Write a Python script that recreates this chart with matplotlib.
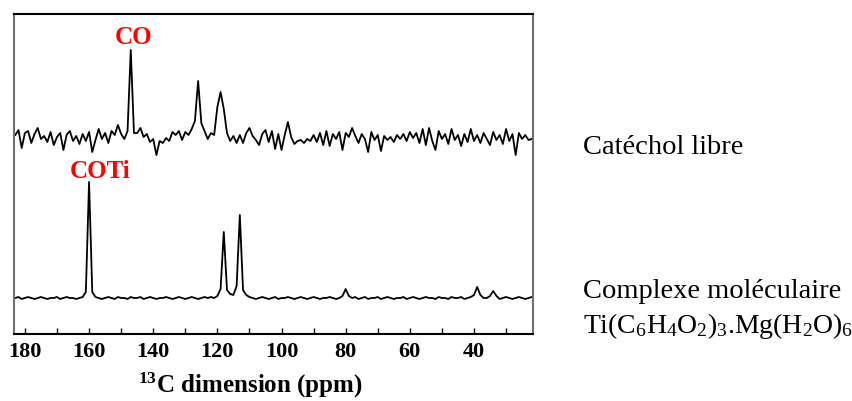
import numpy as np
import matplotlib
matplotlib.use('Agg')
import matplotlib.pyplot as plt
from matplotlib.ticker import MultipleLocator

plt.rcParams['font.family'] = ['Liberation Serif', 'DejaVu Serif']
plt.rcParams['mathtext.fontset'] = 'custom'
plt.rcParams['mathtext.rm'] = 'Liberation Serif'
plt.rcParams['mathtext.it'] = 'Liberation Serif:italic'
plt.rcParams['mathtext.bf'] = 'Liberation Serif:bold'

# chemical shift grid, 1 ppm step, 183 -> 22 ppm
ppm = np.arange(183, 21, -1)

# catechol libre (relative intensity)
catechol = [2, 7, -11, 4, 6, -6, 3, 9, -2, 1,
            -5, 5, -8, 0, 4, -13, 2, 6, -4, 1,
            -7, 3, -4, 5, -15, -3, 8, -2, 4, -6,
            6, 2, 12, 3, -2, 6, 87, 4, 4, 9,
            0, 3, -5, -2, -18, -4, -6, -1, -4, 5,
            2, 6, -3, 5, 2, 8, 16, 56, 14, 6,
            -2, 4, 2, 30, 45, 28, 4, -4, 1, -6,
            2, -6, 4, 9, 1, -3, -8, 3, 7, -5,
            6, -12, 3, -13, 2, 15, 0, -7, -4, -3,
            -6, -2, -4, 2, -5, 4, -8, 6, -9, 3,
            -2, 5, -13, 4, 0, 9, 1, -6, 3, -2,
            -15, 5, -3, 2, -14, 1, -3, 0, -5, 2,
            -2, 3, -4, 5, -1, 4, -6, 8, -8, 9,
            -4, -13, 6, -2, 3, -7, 8, -3, 2, -9,
            3, -5, 8, -4, 2, -6, 4, -2, -8, 5,
            -3, 2, -7, 8, -4, 3, -18, 4, -2, 2,
            -3, -2]

# complexe moleculaire Ti(C6H4O2)3.Mg(H2O)6
complexe = [0, 1, -1, 0, 1, 0, -1, 0, 1, 0,
            -1, 0, 0, 1, -1, 0, 1, 0, 0, -1,
            0, 1, 6, 116, 6, 1, 0, -1, 0, 1,
            0, -1, 1, 0, 0, -1, 1, 0, 0, 1,
            -1, 0, 1, 0, -1, 0, 0, 1, 0, -1,
            0, 1, 0, -1, 0, 1, 0, -1, 0, 1,
            0, 1, 0, 2, 9, 66, 8, 4, 3, 12,
            83, 8, 3, 1, 0, -1, 0, 1, 0, -1,
            0, 1, -1, 0, 0, 1, 0, -1, 0, 1,
            0, -1, 0, 1, 0, -1, 0, 0, 1, 0,
            -1, 0, 2, 9, 2, 0, 1, -1, 0, 1,
            -1, 0, 0, 1, -1, 0, 1, 0, -1, 0,
            0, 1, -1, 0, 1, 0, -1, 0, 1, 0,
            0, -1, 1, 0, 0, -1, 1, 0, 0, 1,
            -1, 0, 1, 3, 11, 3, 0, 0, 2, 7,
            2, -1, 0, 1, 0, -1, 0, 1, 0, -1,
            0, 1]

tick_labels = ['180', '160', '140', '120', '100', '80', '60', '40']

fig = plt.figure(figsize=(8.52, 4.01), dpi=100)
ax = fig.add_axes([14 / 852, 67 / 401, 519 / 852, 320 / 401])

top_offset = 197
bottom_offset = 36
ax.plot(ppm, np.array(catechol) + top_offset, color='black', lw=1.3)
ax.plot(ppm, np.array(complexe) + bottom_offset, color='black', lw=1.3)

ax.set_xlim(183.4, 21.6)
ax.set_ylim(0, 320)

ax.text(146, 297, 'CO', color='red', fontsize=18, fontweight='bold',
        ha='center', va='center')
ax.text(156.5, 162, 'COTi', color='red', fontsize=18, fontweight='bold',
        ha='center', va='center')

ax.set_yticks([])
ax.xaxis.set_minor_locator(MultipleLocator(10))
ax.set_xticks([180, 160, 140, 120, 100, 80, 60, 40])
ax.set_xticklabels(tick_labels, fontsize=16, fontweight='bold')
ax.tick_params(axis='x', which='both', direction='in', length=4, width=1, pad=6)

for side in ['left', 'right']:
    ax.spines[side].set_color('#707070')
    ax.spines[side].set_linewidth(1.5)
for side in ['top', 'bottom']:
    ax.spines[side].set_color('black')
    ax.spines[side].set_linewidth(1.5)

fig.text(250 / 852, 1 - 385 / 401, r'$\mathbf{^{13}}$C dimension (ppm)',
         fontsize=18, fontweight='bold', ha='center', va='center')

fig.text(583 / 852, 1 - 148 / 401, 'Catéchol libre', fontsize=20.5,
         ha='left', va='center')
fig.text(583 / 852, 1 - 292 / 401, 'Complexe moléculaire', fontsize=20.5,
         ha='left', va='center')
fig.text(583 / 852, 1 - 326 / 401,
         r'Ti(C$_6$H$_4$O$_2$)$_3$.Mg(H$_2$O)$_6$', fontsize=20,
         ha='left', va='center')

fig.savefig('out.png', dpi=100)
